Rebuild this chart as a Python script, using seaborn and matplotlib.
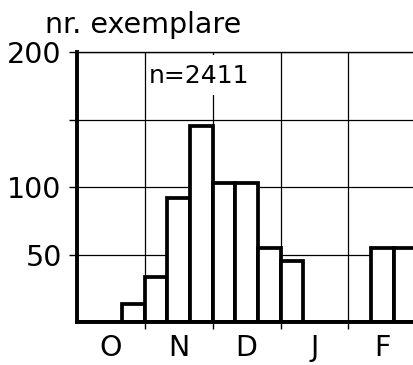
import matplotlib
matplotlib.use("Agg")
import matplotlib.pyplot as plt
from matplotlib.patches import Rectangle
import seaborn as sns
import pandas as pd

# ten-day periods (decades) from October to February
decades = ["O1", "O2", "O3", "N1", "N2", "N3", "D1", "D2", "D3",
           "J1", "J2", "J3", "F1", "F2", "F3"]
counts = [0, 0, 13, 33, 92, 145, 103, 103, 55, 45, 0, 0, 0, 55, 55]
month_labels = ["O", "N", "D", "J", "F"]
ytick_values = [50, 100, 150, 200]
ytick_labels = ["50", "100", "", "200"]
y_label = "nr. exemplare"
n_label = "n=2411"

df = pd.DataFrame({"decade": decades, "count": counts})

sns.set_style("white")
plt.rcParams["font.family"] = ["DejaVu Sans"]
plt.rcParams["text.color"] = "black"
plt.rcParams["xtick.color"] = "black"
plt.rcParams["ytick.color"] = "black"

fig = plt.figure(figsize=(4.14, 3.65), dpi=100)
ax = fig.add_axes([77 / 414, 43 / 365, (414 - 77) / 414, 270 / 365])

sns.barplot(data=df, x="decade", y="count", order=decades, ax=ax,
            color="white", edgecolor="black", linewidth=2.7, width=1.0,
            saturation=1, errorbar=None)

ax.set_ylim(0, 200)
ax.set_xlim(-0.5, 14.4)

# spines
for s in ["left", "bottom"]:
    ax.spines[s].set_linewidth(2.8)
    ax.spines[s].set_color("black")
ax.spines["top"].set_linewidth(1.0)
ax.spines["top"].set_color("black")
ax.spines["right"].set_visible(False)

# y ticks
ax.set_yticks(ytick_values)
ax.set_yticklabels(ytick_labels)
ax.tick_params(axis="y", direction="out", length=6, width=1.0, pad=5,
               labelsize=20.5, labelcolor="black", color="black", left=True)

# x: major ticks at month boundaries, labels at month centres
bounds = [2.5, 5.5, 8.5, 11.5]
centres = [1, 4, 7, 10, 13]
ax.set_xticks(bounds)
ax.set_xticklabels([])
ax.set_xticks(centres, minor=True)
ax.set_xticklabels(month_labels, minor=True)
ax.tick_params(axis="x", which="major", direction="out", length=5,
               width=1.0, color="black", bottom=True)
ax.tick_params(axis="x", which="minor", length=0, pad=9, labelsize=20.5,
               labelcolor="black", bottom=True)

ax.set_xlabel("")
ax.set_ylabel("")

# grid
ax.set_axisbelow(True)
ax.grid(True, which="major", axis="both", color="black", linewidth=0.9)

# white area behind the sample-size label (interrupts the grid line)
ax.add_patch(Rectangle((150 / 414, 1 - 95 / 365), 98 / 414, 40 / 365,
                       transform=fig.transFigure, facecolor="white",
                       edgecolor="none", zorder=0.8, clip_on=False))

# labels
fig.text(45 / 414, 1 - 33 / 365, y_label, fontsize=20.5, va="baseline",
         ha="left", color="black")
ax.text(199 / 414, 1 - 83 / 365, n_label, transform=fig.transFigure,
        fontsize=18, va="baseline", ha="center", zorder=2, color="black")

fig.savefig("out.png", dpi=100)
